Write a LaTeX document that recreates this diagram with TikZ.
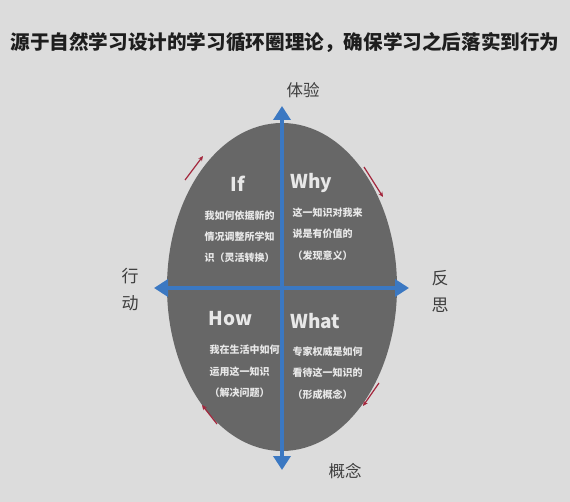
\documentclass[tikz,border=0pt]{standalone}
\usepackage{fontspec}
\usepackage{tikz}
\usetikzlibrary{arrows.meta,shapes.geometric}
\newfontfamily\cjk{Noto Sans CJK SC}
\definecolor{Paper}{HTML}{DCDCDC}
\definecolor{Slate}{HTML}{676767}
\definecolor{Axis}{HTML}{3B78C2}
\definecolor{Chalk}{HTML}{E8E8E8}
\definecolor{Ink}{HTML}{1E1E1E}
\definecolor{Graphite}{HTML}{3E3E3E}
\definecolor{Wine}{HTML}{A3263C}

\begin{document}
\begin{tikzpicture}[x=1pt,y=-1pt]
    \fill[Paper] (0,0) rectangle (570,502);
    \node[text=Ink,font=\cjk\fontsize{19.6}{23}\selectfont\bfseries] (title) at (285,42) {源于自然学习设计的学习循环圈理论，确保学习之后落实到行为};

    \node[ellipse,fill=Slate,minimum width=230pt,minimum height=328pt,inner sep=0pt] (disc) at (282,287) {};

    \coordinate (up) at (282,106);
    \coordinate (down) at (282,470);
    \coordinate (left) at (154,288);
    \coordinate (right) at (409,288);
    \draw[Axis,line width=4pt,{Triangle[width=17pt,length=14pt]}-{Triangle[width=17pt,length=14pt]}] (up) -- (down);
    \draw[Axis,line width=4pt,{Triangle[width=17pt,length=14pt]}-{Triangle[width=17pt,length=14pt]}] (left) -- (right);

    \node[text=Graphite,font=\cjk\fontsize{16.5}{19}\selectfont] (tiyan) at (303,90) {体验};
    \node[text=Graphite,font=\cjk\fontsize{16.5}{19}\selectfont] (gainian) at (345,471) {概念};
    \node[text=Graphite,font=\cjk\fontsize{17}{27}\selectfont,align=center] (xingdong) at (130,290) {行\\动};
    \node[text=Graphite,font=\cjk\fontsize{17}{27}\selectfont,align=center] (fansi) at (440,291) {反\\思};

    % quadrant texts
    \node[text=Chalk,font=\cjk\fontsize{19}{23}\selectfont\bfseries] (ifhead) at (238,184) {If};
    \node[anchor=west,text=Chalk,font=\cjk\fontsize{10}{12}\selectfont\bfseries] (ifA) at (201,216) {我如何依据新的};
    \node[anchor=west,text=Chalk,font=\cjk\fontsize{10}{12}\selectfont\bfseries] (ifB) at (201,237) {情况调整所学知};
    \node[anchor=west,text=Chalk,font=\cjk\fontsize{10}{12}\selectfont\bfseries] (ifC) at (201,258) {识（灵活转换）};

    \node[anchor=west,text=Chalk,font=\cjk\fontsize{19}{23}\selectfont\bfseries] (whyhead) at (287,183) {Why};
    \node[anchor=west,text=Chalk,font=\cjk\fontsize{10}{12}\selectfont\bfseries] (whyA) at (289,213) {这一知识对我来};
    \node[anchor=west,text=Chalk,font=\cjk\fontsize{10}{12}\selectfont\bfseries] (whyB) at (289,234) {说是有价值的};
    \node[anchor=west,text=Chalk,font=\cjk\fontsize{10}{12}\selectfont\bfseries] (whyC) at (289,256) {（发现意义）};

    \node[anchor=west,text=Chalk,font=\cjk\fontsize{19}{23}\selectfont\bfseries] (howhead) at (205,319) {How};
    \node[anchor=west,text=Chalk,font=\cjk\fontsize{10}{12}\selectfont\bfseries] (howA) at (206,350) {我在生活中如何};
    \node[anchor=west,text=Chalk,font=\cjk\fontsize{10}{12}\selectfont\bfseries] (howB) at (206,372) {运用这一知识};
    \node[anchor=west,text=Chalk,font=\cjk\fontsize{10}{12}\selectfont\bfseries] (howC) at (206,393) {（解决问题）};

    \node[anchor=west,text=Chalk,font=\cjk\fontsize{19}{23}\selectfont\bfseries] (whathead) at (287,321) {What};
    \node[anchor=west,text=Chalk,font=\cjk\fontsize{10}{12}\selectfont\bfseries] (whatA) at (289,352) {专家权威是如何};
    \node[anchor=west,text=Chalk,font=\cjk\fontsize{10}{12}\selectfont\bfseries] (whatB) at (289,373) {看待这一知识的};
    \node[anchor=west,text=Chalk,font=\cjk\fontsize{10}{12}\selectfont\bfseries] (whatC) at (289,395) {（形成概念）};

    % cycle marks
    \coordinate (nwA) at (185,180);
    \coordinate (nwB) at (203,156);
    \coordinate (neA) at (364,167);
    \coordinate (neB) at (383,197);
    \coordinate (seA) at (379,383);
    \coordinate (seB) at (363,406);
    \coordinate (swA) at (217,424);
    \coordinate (swB) at (202,405);
    \draw[Wine,line width=1.2pt,-{Stealth[length=5pt,width=4.5pt]}] (nwA) -- (nwB);
    \draw[Wine,line width=1.2pt,-{Stealth[length=5pt,width=4.5pt]}] (neA) -- (neB);
    \draw[Wine,line width=1.2pt,-{Stealth[length=5pt,width=4.5pt]}] (seA) -- (seB);
    \draw[Wine,line width=1.2pt,-{Stealth[length=5pt,width=4.5pt]}] (swA) -- (swB);
\end{tikzpicture}
\end{document}
